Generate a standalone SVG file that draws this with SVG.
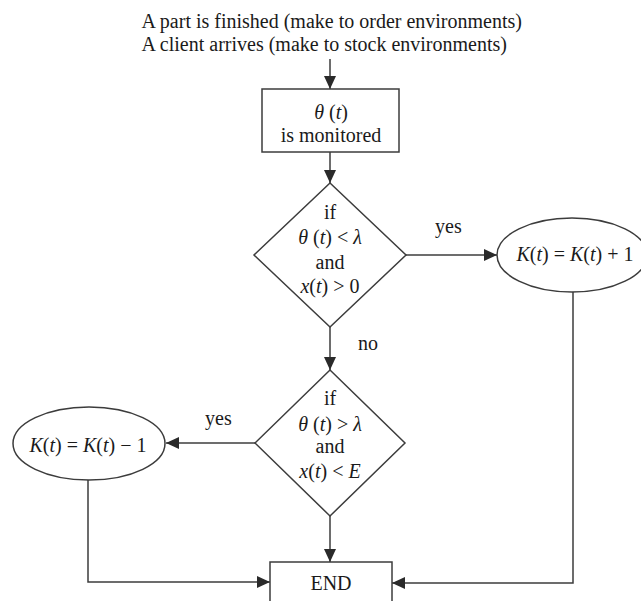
<svg xmlns="http://www.w3.org/2000/svg" width="641" height="601" viewBox="0 0 641 601">
  <style>
    text { font-family: "Liberation Serif", "Times New Roman", serif; font-size: 20px; fill: #1a1a1a; }
    .c { text-anchor: middle; }
    .i { font-style: italic; }
    .shape { fill: #fff; stroke: #3c3c3c; stroke-width: 1.5; }
    .wire { fill: none; stroke: #3c3c3c; stroke-width: 1.5; }
  </style>
  <defs>
    <marker id="arrow" markerUnits="userSpaceOnUse" markerWidth="14" markerHeight="12" refX="13" refY="6" orient="auto">
      <path d="M0,0 L13,6 L0,12 z" fill="#2a2a2a"/>
    </marker>
  </defs>

  <rect width="641" height="601" fill="#fff"/>

  <!-- trigger events -->
  <g id="trigger">
    <text x="141.5" y="28">A part is finished (make to order environments)</text>
    <text x="141.5" y="51">A client arrives (make to stock environments)</text>
  </g>

  <!-- connectors -->
  <g id="connectors">
    <path class="wire" d="M330,59 V89" marker-end="url(#arrow)"/>
    <path class="wire" d="M330,152 V183" marker-end="url(#arrow)"/>
    <path class="wire" d="M406,255 H497" marker-end="url(#arrow)"/>
    <path class="wire" d="M330,327 V370" marker-end="url(#arrow)"/>
    <path class="wire" d="M255,443 H166" marker-end="url(#arrow)"/>
    <path class="wire" d="M330,516 V562" marker-end="url(#arrow)"/>
    <path class="wire" d="M88,480 V582 H270" marker-end="url(#arrow)"/>
    <path class="wire" d="M573,292 V583 H392" marker-end="url(#arrow)"/>
    <text x="435" y="233">yes</text>
    <text x="358" y="350">no</text>
    <text x="205" y="425">yes</text>
  </g>

  <!-- monitoring step -->
  <g id="monitor">
    <rect class="shape" x="262" y="89" width="137" height="63"/>
    <text class="c" x="331" y="119"><tspan class="i">θ</tspan> (<tspan class="i">t</tspan>)</text>
    <text class="c" x="331" y="142">is monitored</text>
  </g>

  <!-- first test -->
  <g id="test-increase">
    <polygon class="shape" points="330,183 406,255 330,327 254,255"/>
    <text class="c" x="330" y="219">if</text>
    <text class="c" x="330" y="244"><tspan class="i">θ</tspan> (<tspan class="i">t</tspan>) &lt; <tspan class="i">λ</tspan></text>
    <text class="c" x="330" y="269">and</text>
    <text class="c" x="330" y="293"><tspan class="i">x</tspan>(<tspan class="i">t</tspan>) &gt; 0</text>
  </g>

  <!-- increment -->
  <g id="increment">
    <ellipse class="shape" cx="572" cy="255" rx="75" ry="37"/>
    <text class="c" x="575" y="261"><tspan class="i">K</tspan>(<tspan class="i">t</tspan>) = <tspan class="i">K</tspan>(<tspan class="i">t</tspan>) + 1</text>
  </g>

  <!-- second test -->
  <g id="test-decrease">
    <polygon class="shape" points="330,370 405,443 330,516 255,443"/>
    <text class="c" x="330" y="405">if</text>
    <text class="c" x="330" y="431"><tspan class="i">θ</tspan> (<tspan class="i">t</tspan>) &gt; <tspan class="i">λ</tspan></text>
    <text class="c" x="330" y="453">and</text>
    <text class="c" x="330" y="478"><tspan class="i">x</tspan>(<tspan class="i">t</tspan>) &lt; <tspan class="i">E</tspan></text>
  </g>

  <!-- decrement -->
  <g id="decrement">
    <ellipse class="shape" cx="89" cy="443.5" rx="76" ry="36.5"/>
    <text class="c" x="88" y="452"><tspan class="i">K</tspan>(<tspan class="i">t</tspan>) = <tspan class="i">K</tspan>(<tspan class="i">t</tspan>) − 1</text>
  </g>

  <!-- end -->
  <g id="end">
    <rect class="shape" x="270" y="562" width="122" height="60"/>
    <text class="c" x="331" y="590">END</text>
  </g>
</svg>
